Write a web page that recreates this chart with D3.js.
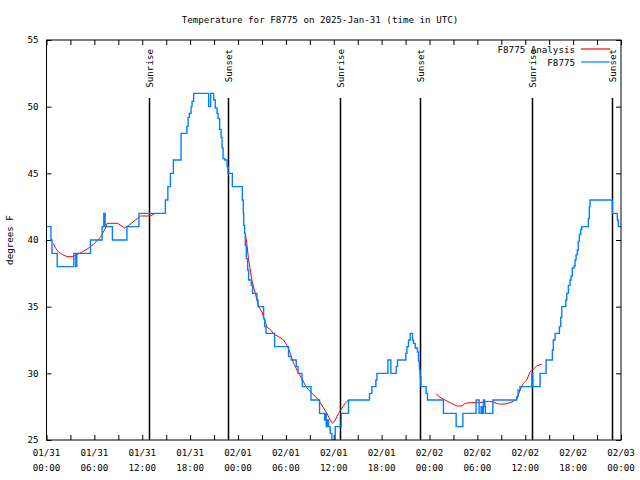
<!DOCTYPE html>
<html><head><meta charset="utf-8">
<script src="https://cdn.jsdelivr.net/npm/d3@7"></script>
<style>
body{margin:0;background:#fff}
svg{display:block}
text{font-family:"DejaVu Sans Mono","Liberation Mono",monospace;font-size:9.2px;fill:#000}
</style>
</head><body><svg id="c" width="640" height="480"></svg>
<script>
// hours since 2025-01-31 00:00 UTC
const obsHours = [0.00,0.56,0.69,1.34,3.42,3.67,3.79,5.51,6.97,7.18,7.35,8.26,10.08,11.58,14.90,15.21,15.53,15.90,16.87,17.59,17.74,17.91,18.12,18.24,18.44,20.32,20.57,20.95,21.16,21.37,21.50,21.70,21.88,22.00,22.13,22.33,22.63,22.75,23.29,24.54,24.67,24.71,24.83,24.92,25.04,25.21,25.33,25.67,25.83,26.38,26.51,27.21,27.34,27.51,28.59,30.34,30.68,31.30,31.52,32.02,32.06,33.15,34.22,34.85,34.94,35.06,35.19,35.35,35.56,35.77,36.19,36.94,37.85,40.48,40.78,41.28,41.41,42.79,43.16,43.83,43.99,45.04,45.17,45.37,45.58,45.87,45.99,46.21,46.49,46.62,46.74,46.83,46.92,47.58,47.75,49.75,51.34,52.18,53.84,54.22,54.47,54.60,54.76,54.93,55.01,55.94,58.94,59.10,59.35,60.82,60.94,61.86,62.61,63.40,63.52,63.74,64.28,64.45,64.58,65.08,65.20,65.40,65.61,65.74,65.90,66.12,66.24,66.37,66.53,66.65,66.78,66.95,67.08,67.91,68.03,68.12,70.91,71.54,71.66,72.00];
const obsTemps = [41,40,39,38,39,38,39,40,41,42,41,40,41,42,43,44,45,46,48,48.5,49.2,49.5,50,50.4,51,50,51,50.5,49.9,49.5,49.1,48.3,47.7,46.9,46.1,46,45.5,45,44,43,42,41.1,40.5,39.6,38.6,37.75,37,36.6,36,35.5,35,34.1,33.5,33,32,31.25,31,30.5,30,29.5,29,28,27,26.5,27,26,26.5,26,25.5,25,26,27,28,28.5,29,29.5,30,31,30,30.5,31,31.5,32,32.5,33,32.5,32.25,31.9,31.6,30.9,30.25,29.75,29,28.5,28,27,26,27,28,27,27.5,27,28,27.5,27,28,28.25,28.75,29,30,29,30,31,31.75,32.5,33,33.5,34.2,35,35.5,36,36.6,37,37.3,37.9,38.05,38.5,38.9,39.25,39.9,40.4,40.8,41,41.6,42.5,43,42,41.5,41,41];

const anaHours1 = [0.84,1.13,1.50,2.00,2.59,3.22,3.84,4.47,5.30,5.92,6.76,7.39,7.60,8.93,9.77,10.31,11.36,11.77,13.02,13.65];
const anaTemps1 = [39.75,39.4,39.1,38.9,38.75,38.75,38.9,39.1,39.4,39.7,40.2,40.9,41.25,41.25,40.9,41.1,41.6,41.8,41.8,42];
const anaHours2 = [24.92,25.13,25.33,25.54,25.76,26.17,26.58,27.01,27.21,27.64,28.05,28.46,29.09,29.71,30.14,30.55,30.97,31.59,32.02,32.43,32.85,33.47,34.10,34.72,35.15,35.56,35.85,36.19,36.60,37.03,37.44,37.85];
const anaTemps2 = [40.5,39.6,38.5,37.75,36.9,36,35,34.6,34.2,33.45,33.3,32.95,32.75,32.5,32.1,31.5,30.75,30,29.6,29.1,28.75,28.4,28,27.4,27,26.5,26.25,26.5,27,27.4,27.75,28];
const anaHours3 = [48.84,49.34,49.96,50.59,51.43,52.05,52.47,53.09,54.35,55.39,56.01,56.64,57.48,58.31,58.94,59.35,59.77,60.19,60.59,61.01,61.43,62.07];
const anaTemps3 = [28.45,28.2,28,27.8,27.55,27.55,27.75,27.8,27.8,27.9,27.85,27.7,27.7,27.85,28.05,28.75,29.25,29.5,30.1,30.3,30.55,30.7];

const sunriseHours = [12.90,36.81,60.86];
const sunsetHours = [22.79,46.83,70.87];

const xTickHours = [0,6,12,18,24,30,36,42,48,54,60,66,72];
const xTickDates = ["01/31","01/31","01/31","01/31","02/01","02/01","02/01","02/01","02/02","02/02","02/02","02/02","02/03"];
const xTickTimes = ["00:00","06:00","12:00","18:00","00:00","06:00","12:00","18:00","00:00","06:00","12:00","18:00","00:00"];
const yTicks = [25,30,35,40,45,50,55];

const titleText = "Temperature for F8775 on 2025-Jan-31 (time in UTC)";
const yLabel = "degrees F";
const seriesNames = ["F8775 Analysis","F8775"];
const seriesColors = ["#ff0000","#0080ff"];

const L=46.5,R=621,T=40,B=440;
const svg = d3.select("#c");
const x = d3.scaleLinear().domain([0,72]).range([L,R]);
const y = d3.scaleLinear().domain([25,55]).range([B,T]);

svg.append("text").attr("x",320).attr("y",23).attr("text-anchor","middle").text(titleText);

svg.append("defs").append("clipPath").attr("id","clip").append("rect")
  .attr("x",L).attr("y",T).attr("width",R-L).attr("height",B-T);

function tidy(g){ g.select(".domain").remove(); g.selectAll(".tick line").attr("stroke","#000"); }

const minor = d3.range(0,73,3);
svg.append("g").attr("transform",`translate(0,${B})`)
  .call(d3.axisBottom(x).tickValues(minor).tickSizeInner(-5).tickSizeOuter(0).tickFormat("")).call(tidy);
svg.append("g").attr("transform",`translate(0,${T})`)
  .call(d3.axisTop(x).tickValues(minor).tickSizeInner(-5).tickSizeOuter(0).tickFormat("")).call(tidy);
svg.append("g").attr("transform",`translate(${L},0)`)
  .call(d3.axisLeft(y).tickValues(yTicks).tickSizeInner(-5).tickSizeOuter(0).tickPadding(8).tickFormat(d3.format("d"))).call(tidy);
svg.append("g").attr("transform",`translate(${R},0)`)
  .call(d3.axisRight(y).tickValues(yTicks).tickSizeInner(-5).tickSizeOuter(0).tickFormat("")).call(tidy);
svg.selectAll("g").attr("font-family",null).attr("font-size",null);

const xl = svg.append("g");
xTickHours.forEach((h,i)=>{
  xl.append("text").attr("x",x(h)).attr("y",456).attr("text-anchor","middle").text(xTickDates[i]);
  xl.append("text").attr("x",x(h)).attr("y",471).attr("text-anchor","middle").text(xTickTimes[i]);
});

svg.append("text").attr("transform",`translate(13,${(T+B)/2}) rotate(-90)`).attr("text-anchor","middle").text(yLabel);

// sun lines
const sun = [].concat(sunriseHours.map(h=>({h,l:"Sunrise"})), sunsetHours.map(h=>({h,l:"Sunset"})));
sun.forEach(s=>{
  svg.append("line").attr("x1",Math.round(x(s.h))+0.5).attr("x2",Math.round(x(s.h))+0.5)
    .attr("y1",98).attr("y2",B).attr("stroke","#000").attr("stroke-width",1.5);
  svg.append("text").attr("transform",`translate(${x(s.h)+4},49) rotate(-90)`).attr("text-anchor","end").text(s.l);
});

const plot = svg.append("g").attr("clip-path","url(#clip)");
const lineAna = d3.line().x(d=>x(d[0])).y(d=>y(d[1]));
[[anaHours1,anaTemps1],[anaHours2,anaTemps2],[anaHours3,anaTemps3]].forEach(([hs,ts])=>{
  plot.append("path").datum(d3.zip(hs,ts)).attr("d",lineAna)
    .attr("fill","none").attr("stroke",seriesColors[0]).attr("stroke-width",1);
});
const lineObs = d3.line().x(d=>x(d[0])).y(d=>y(d[1])).curve(d3.curveStepAfter);
plot.append("path").datum(d3.zip(obsHours,obsTemps)).attr("d",lineObs)
  .attr("fill","none").attr("stroke",seriesColors[1]).attr("stroke-width",1.4);

// frame
svg.append("rect").attr("x",L).attr("y",T).attr("width",R-L).attr("height",B-T)
  .attr("fill","none").attr("stroke","#000").attr("stroke-width",1);

// legend
seriesNames.forEach((n,i)=>{
  const yy = 49 + i*13;
  svg.append("text").attr("x",575).attr("y",yy+3.5).attr("text-anchor","end").text(n);
  svg.append("line").attr("x1",581).attr("x2",610).attr("y1",yy).attr("y2",yy)
    .attr("stroke",seriesColors[i]).attr("stroke-width",1.2);
});
</script></body></html>
